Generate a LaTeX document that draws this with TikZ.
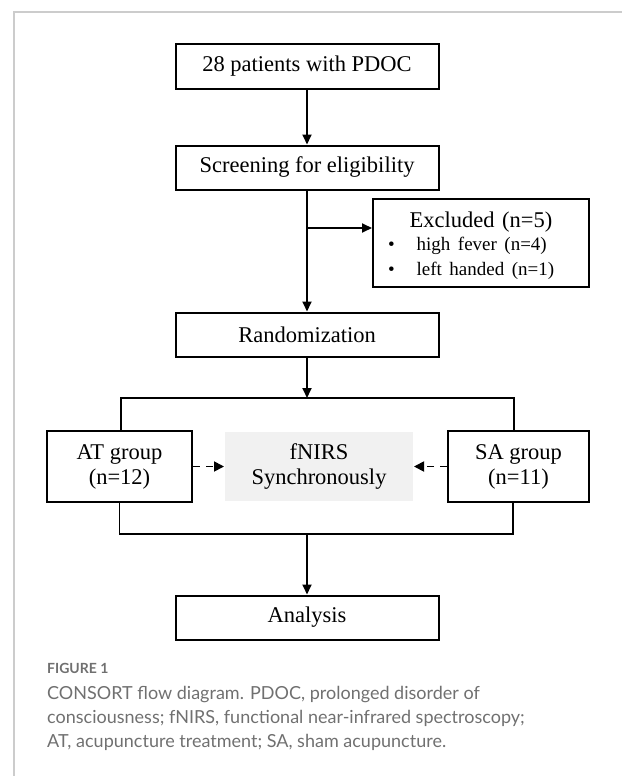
\documentclass[tikz,border=0pt]{standalone}
\usepackage{fontspec}
\setmainfont{Liberation Serif}
\newfontfamily\captionfont{Lato}
\usepackage{xcolor}
\usepackage{tikz}
\definecolor{framegray}{RGB}{204, 204, 204}
\definecolor{captiongray}{RGB}{112, 112, 112}
\definecolor{lightfill}{RGB}{241, 241, 241}
\usetikzlibrary{arrows.meta, positioning, calc}

\begin{document}
\begin{tikzpicture}[
    x=1pt, y=-1pt,
    node distance=55pt,
    flowbox/.style={rectangle, draw=black, line width=2pt, fill=white, minimum width=263pt,
                  minimum height=44pt, inner sep=0pt, align=center, font=\fontsize{22.5}{25}\selectfont},
    groupbox/.style={flowbox, minimum width=145pt, minimum height=71pt},
    flow/.style={line width=1.8pt, -{Triangle[length=10pt, width=9pt]}},
    link/.style={line width=1.8pt},
    sidelink/.style={line width=1.8pt, dash pattern=on 7pt off 6pt, -{Triangle[length=10pt, width=10pt]}}
]
    \useasboundingbox (0,0) rectangle (622,776);
    % Frame
    \draw[framegray, line width=2pt] (14,776) -- (14,12) -- (622,12);

    % Main flow
    \node[flowbox] (patients) at (307,66.5) {28 patients with PDOC};
    \node[flowbox, below=of patients] (screening) {Screening for eligibility};
    \node[flowbox, below=121pt of screening] (randomization) {Randomization};
    \node[flowbox, minimum width=216pt, minimum height=88pt, text width=186pt, align=left] (excluded) at (481,243)
        {\fontsize{19}{23}\selectfont
         \makebox[186pt]{\rule{0pt}{21.5pt}\fontsize{22.5}{23}\selectfont Excluded (n=5)}\\
         \textbullet\hspace{22pt}high fever (n=4)\\
         \textbullet\hspace{22pt}left handed (n=1)};

    % Groups
    \node[groupbox] (atgroup) at (119.5,466.5) {AT group\\(n=12)};
    \node[groupbox, minimum width=141pt] (sagroup) at (518.5,466.5) {SA group\\(n=11)};
    \node[flowbox, draw=none, fill=lightfill, minimum width=188pt, minimum height=69pt] (fnirs) at (319,466.5) {fNIRS\\Synchronously};
    \node[flowbox] (analysis) at (307,617.5) {Analysis};

    % Connectors
    \coordinate (branch) at (307,228);
    \coordinate (split) at (307,398);
    \coordinate (join) at (307,534);
    \draw[flow] (patients) -- (screening);
    \draw[flow] (screening) -- (randomization);
    \draw[flow] (branch) -- (branch -| excluded.west);
    \draw[flow] (randomization) -- (split);
    \draw[link] ([xshift=1.5pt]atgroup.north) |- (split) -| ([xshift=-4.5pt]sagroup.north);
    \draw[link] (atgroup.south) |- (join) -| ([xshift=-5.5pt]sagroup.south);
    \draw[flow] (join) -- (analysis);
    \draw[sidelink] (atgroup.east) -- (fnirs.west);
    \draw[sidelink] (sagroup.west) -- (fnirs.east);

    % Caption
    \node[anchor=base west, inner sep=0pt, text=captiongray, font=\captionfont\bfseries\fontsize{14}{16}\selectfont] (figlabel) at (47,673) {FIGURE 1};
    \node[anchor=north west, inner sep=0pt, align=left, text=captiongray, font=\captionfont\fontsize{18}{24}\selectfont] (caption) at (47,686)
        {CONSORT flow diagram. PDOC, prolonged disorder of\\consciousness; fNIRS, functional near-infrared spectroscopy;\\AT, acupuncture treatment; SA, sham acupuncture.};
\end{tikzpicture}
\end{document}
